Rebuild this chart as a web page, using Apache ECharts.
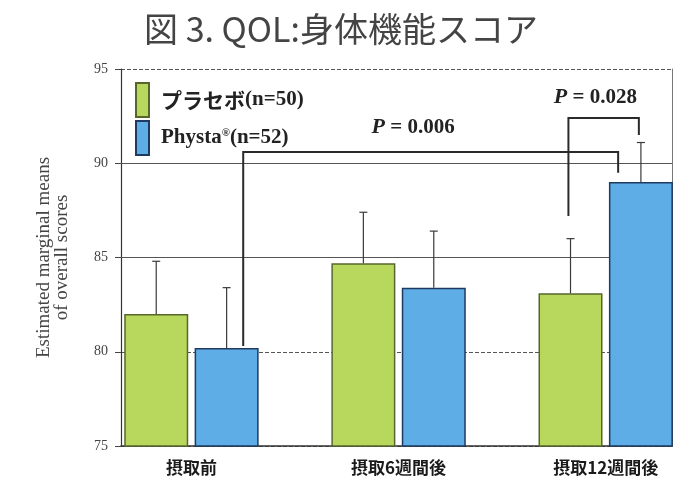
<!DOCTYPE html>
<html>
<head>
<meta charset="utf-8">
<script src="https://cdn.jsdelivr.net/npm/echarts@6/dist/echarts.min.js"></script>
<style>
  html, body { margin: 0; background: #fff; }
  #chart { width: 682px; height: 484px; }
</style>
</head>
<body>
<div id="chart"></div>
<script>
const categories = ["摂取前", "摂取6週間後", "摂取12週間後"];
const seriesNames = ["プラセボ(n=50)", "Physta®(n=52)"];
const placebo = [82.0, 84.7, 83.1];
const placeboUpper = [84.8, 87.4, 86.0];
const physta = [80.2, 83.4, 89.0];
const phystaUpper = [83.4, 86.4, 91.1];
// significance brackets: left leg x/y, right leg x/y, top y, label x/y
const brackets = [
  [0.25, 80.3, 2.06, 89.5, 90.6, 1.07, 91.9],
  [1.82, 87.2, 2.16, 91.5, 92.4, 1.95, 93.5],
];
const pValues = ["0.006", "0.028"];

const SERIF = "'Liberation Serif', 'DejaVu Serif', serif";
const JP = "'Noto Sans CJK JP', sans-serif";
const BAR_W = 64;
const BAR_GAP = 0.1;
const half = (BAR_W * (1 + BAR_GAP)) / 2;

const chart = echarts.init(document.getElementById("chart"));

// 誤差棒（上側のみ）
function errorItem(params, api) {
  const side = api.value(3) ? 1 : -1;
  const base = api.coord([api.value(0), api.value(1)]);
  const top = api.coord([api.value(0), api.value(2)]);
  const x = base[0] + side * half;
  const st = { stroke: "#3a3a3a", lineWidth: 1.2 };
  return {
    type: "group",
    children: [
      { type: "line", shape: { x1: x, y1: base[1], x2: x, y2: top[1] }, style: st },
      { type: "line", shape: { x1: x - 4, y1: top[1], x2: x + 4, y2: top[1] }, style: st },
    ],
  };
}

function bracketItem(params, api) {
  const p1 = api.coord([api.value(0), api.value(1)]);
  const p2 = api.coord([api.value(2), api.value(3)]);
  const t = api.coord([api.value(0), api.value(4)])[1];
  const lab = api.coord([api.value(5), api.value(6)]);
  return {
    type: "group",
    children: [
      {
        type: "polyline",
        shape: { points: [[p1[0], p1[1]], [p1[0], t], [p2[0], t], [p2[0], p2[1]]] },
        style: { stroke: "#2a2a2a", lineWidth: 2, fill: null },
      },
      {
        type: "text",
        x: lab[0],
        y: lab[1],
        style: {
          text: "{i|P}{n| = " + pValues[params.dataIndex] + "}",
          align: "center",
          verticalAlign: "middle",
          rich: {
            i: { font: "italic bold 22px " + SERIF, fill: "#222" },
            n: { font: "bold 21px " + SERIF, fill: "#222" },
          },
        },
      },
    ],
  };
}

const errData = placebo
  .map((v, i) => [i, v, placeboUpper[i], 0])
  .concat(physta.map((v, i) => [i, v, phystaUpper[i], 1]));

chart.setOption({
  animation: false,
  title: {
    text: "図 3. QOL:身体機能スコア",
    left: "center",
    top: 7,
    textStyle: { fontFamily: JP, fontSize: 34, fontWeight: "normal", color: "#444" },
  },
  legend: {
    orient: "vertical",
    left: 130,
    top: 77,
    itemWidth: 13,
    itemHeight: 34,
    itemGap: 2,
    icon: "rect",
    data: seriesNames,
    formatter: (name) =>
      name === seriesNames[0]
        ? "{jp|プラセボ}{en|(n=50)}"
        : "{en|Physta}{sup|®}{en|(n=52)}",
    textStyle: {
      padding: [0, 0, 0, 7],
      rich: {
        jp: { fontFamily: JP, fontSize: 21, fontWeight: "bold", color: "#222" },
        en: { fontFamily: SERIF, fontSize: 21, fontWeight: "bold", color: "#222" },
        sup: { fontFamily: SERIF, fontSize: 11, fontWeight: "bold", color: "#222", verticalAlign: "top" },
      },
    },
  },
  grid: { left: 121, right: 10, top: 69, bottom: 38 },
  xAxis: {
    type: "value",
    min: -0.34,
    max: 2.32,
    splitLine: { show: false },
    axisLine: { show: true, onZero: false, lineStyle: { color: "#333", width: 1.5 } },
    axisTick: { show: false },
    axisLabel: {
      customValues: [0, 1, 2],
      formatter: (v) => categories[Math.round(v)],
      margin: 13,
      fontFamily: JP,
      fontSize: 17,
      fontWeight: "bold",
      color: "#1a1a1a",
    },
  },
  yAxis: [
    {
      type: "value",
      min: 75,
      max: 95,
      interval: 5,
      name: "Estimated marginal means\nof overall scores",
      nameLocation: "middle",
      nameGap: 50,
      nameTextStyle: { fontFamily: SERIF, fontSize: 19, color: "#444", lineHeight: 18 },
      axisLine: { show: true, onZero: false, lineStyle: { color: "#333", width: 1.2 } },
      axisTick: { show: true, length: 6, lineStyle: { color: "#444" } },
      axisLabel: { margin: 13, fontFamily: SERIF, fontSize: 14, color: "#444" },
      splitLine: { show: true, lineStyle: { color: "#555", type: [4, 2], width: 1 } },
    },
    {
      type: "value",
      min: 75,
      max: 95,
      position: "right",
      axisLine: { show: true, onZero: false, lineStyle: { color: "#777", width: 1 } },
      axisTick: { show: false },
      axisLabel: { show: false },
      splitLine: { show: false },
    },
  ],
  series: [
    {
      name: seriesNames[0],
      type: "bar",
      barWidth: BAR_W,
      barGap: BAR_GAP * 100 + "%",
      z: 3,
      data: placebo.map((v, i) => [i, v]),
      itemStyle: { color: "#b7d85c", borderColor: "#57662c", borderWidth: 1.5 },
      markLine: {
        silent: true,
        z: 1,
        symbol: "none",
        label: { show: false },
        lineStyle: { color: "#555", type: "solid", width: 1.2 },
        data: [{ yAxis: 85 }, { yAxis: 90 }],
      },
    },
    {
      name: seriesNames[1],
      type: "bar",
      barWidth: BAR_W,
      barGap: BAR_GAP * 100 + "%",
      z: 3,
      data: physta.map((v, i) => [i, v]),
      itemStyle: { color: "#5eade6", borderColor: "#1e3a60", borderWidth: 1.5 },
    },
    {
      type: "custom",
      z: 4,
      renderItem: errorItem,
      data: errData,
      silent: true,
    },
    {
      type: "custom",
      z: 5,
      renderItem: bracketItem,
      data: brackets,
      silent: true,
    },
  ],
});
</script>
</body>
</html>
